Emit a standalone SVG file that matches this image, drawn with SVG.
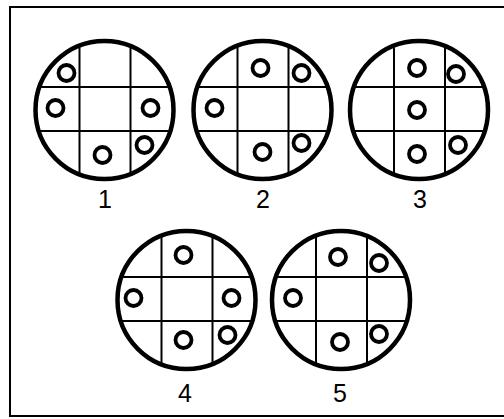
<svg xmlns="http://www.w3.org/2000/svg" width="504" height="419" viewBox="0 0 504 419">
<style>
.frame{fill:none;stroke:#000;stroke-width:2}
.outer{fill:none;stroke:#000;stroke-width:4.5}
.grid{stroke:#000;stroke-width:2;fill:none}
.pin{fill:none;stroke:#000;stroke-width:3.8}
.lbl{font-family:"Liberation Sans",Arial,sans-serif;font-size:25px;fill:#000;text-anchor:middle}
</style>
<defs>
<clipPath id="disc" clipPathUnits="userSpaceOnUse"><circle cx="0" cy="0" r="69"/></clipPath>
<g id="grid">
<g clip-path="url(#disc)">
<line class="grid" x1="-25" y1="-80" x2="-25" y2="80"/>
<line class="grid" x1="26" y1="-80" x2="26" y2="80"/>
<line class="grid" x1="-80" y1="-23" x2="80" y2="-23"/>
<line class="grid" x1="-80" y1="21" x2="80" y2="21"/>
</g>
<circle class="outer" cx="0" cy="0" r="69"/>
</g>
</defs>
<path class="frame" d="M504 7 H10 V416 H504"/>
<g id="node1" transform="translate(104.5,110)">
<use href="#grid"/>
<circle class="pin" cx="-38" cy="-37" r="8"/>
<circle class="pin" cx="-49" cy="-2" r="8"/>
<circle class="pin" cx="46" cy="-2" r="8"/>
<circle class="pin" cx="-2" cy="45" r="8"/>
<circle class="pin" cx="40" cy="35" r="8"/>
</g>
<g id="node2" transform="translate(262.5,110)">
<use href="#grid"/>
<circle class="pin" cx="-2" cy="-42" r="8"/>
<circle class="pin" cx="39" cy="-37" r="8"/>
<circle class="pin" cx="-48" cy="-2" r="8"/>
<circle class="pin" cx="0" cy="42" r="8"/>
<circle class="pin" cx="39" cy="33" r="8"/>
</g>
<g id="node3" transform="translate(419,110)">
<use href="#grid"/>
<circle class="pin" cx="-2" cy="-42" r="8"/>
<circle class="pin" cx="37" cy="-36" r="8"/>
<circle class="pin" cx="-2" cy="0" r="8"/>
<circle class="pin" cx="-2" cy="44" r="8"/>
<circle class="pin" cx="39" cy="35" r="8"/>
</g>
<g id="node4" transform="translate(186.5,300)">
<use href="#grid"/>
<circle class="pin" cx="-3" cy="-45" r="8"/>
<circle class="pin" cx="-53" cy="-2" r="8"/>
<circle class="pin" cx="45" cy="-2" r="8"/>
<circle class="pin" cx="-3" cy="40" r="8"/>
<circle class="pin" cx="41" cy="35" r="8"/>
</g>
<g id="node5" transform="translate(341,300)">
<use href="#grid"/>
<circle class="pin" cx="-3" cy="-43" r="8"/>
<circle class="pin" cx="38" cy="-37" r="8"/>
<circle class="pin" cx="-48" cy="-2" r="8"/>
<circle class="pin" cx="-1" cy="42" r="8"/>
<circle class="pin" cx="38" cy="34" r="8"/>
</g>
<g id="labels">
<text class="lbl" x="105" y="208">1</text>
<text class="lbl" x="263" y="208">2</text>
<text class="lbl" x="420" y="208">3</text>
<text class="lbl" x="185" y="402">4</text>
<text class="lbl" x="340" y="402">5</text>
</g>
<g id="connectors"/>
</svg>
